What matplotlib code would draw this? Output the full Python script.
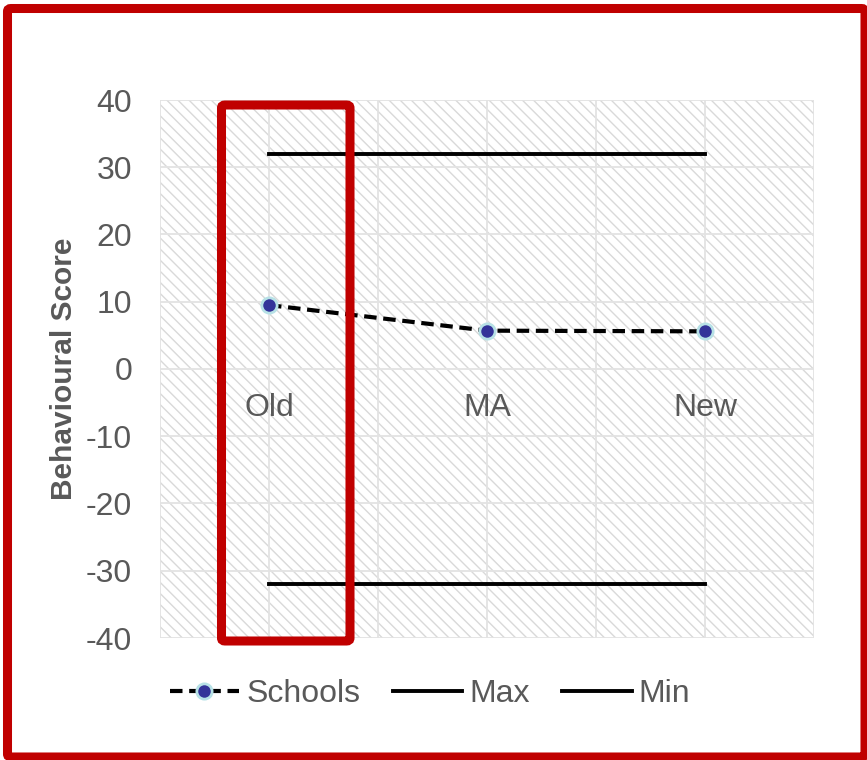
import matplotlib.pyplot as plt
from matplotlib.patches import Rectangle, FancyBboxPatch

# data
categories = ["Old", "MA", "New"]
schools = [9.5, 5.7, 5.6]
max_line = [32, 32, 32]
min_line = [-32, -32, -32]
y_ticks = [-40, -30, -20, -10, 0, 10, 20, 30, 40]

plt.rcParams['font.family'] = ['Liberation Sans', 'DejaVu Sans']
plt.rcParams['axes.unicode_minus'] = False
plt.rcParams['hatch.color'] = '#d9d9d9'
plt.rcParams['hatch.linewidth'] = 1.0
grey = '#595959'
fs = 23

W, H = 867, 760
fig = plt.figure(figsize=(W / 100, H / 100), dpi=100)

def fx(px):
    return px / W

def fy(py):
    return 1 - py / H

ax = fig.add_axes([fx(160), fy(638), fx(814) - fx(160), fy(100) - fy(638)])
x = list(range(len(categories)))

# hatched plot area
ax.add_patch(Rectangle((-0.5, -40), 3, 80, facecolor='white', edgecolor='#d9d9d9',
                       hatch='\\\\\\', linewidth=0, zorder=0))

ax.set_xlim(-0.5, 2.5)
ax.set_ylim(-40, 40)
ax.set_yticks(y_ticks)
ax.set_xticks([i - 0.5 for i in range(4)] + x)
ax.set_xticklabels([])
ax.grid(True, color='#e3e3e3', linewidth=1.3, zorder=1)
ax.set_axisbelow(True)
for s in ax.spines.values():
    s.set_visible(False)
ax.tick_params(length=0, labelsize=fs, labelcolor=grey, pad=20)

# category labels sit along the zero line
for i, c in enumerate(categories):
    ax.text(i, -5.8, c, ha='center', va='center', fontsize=fs, color=grey, zorder=3)

ax.plot(x, max_line, color='black', lw=2.8, label='Max', zorder=3)
ax.plot(x, min_line, color='black', lw=2.8, label='Min', zorder=3)
ax.plot(x, schools, color='black', lw=3, ls=(0, (3, 1.6)), marker='o', markersize=11,
        markerfacecolor='#333399', markeredgecolor='#b7e1e6', markeredgewidth=2,
        label='Schools', zorder=4)

ax.set_ylabel('Behavioural Score', fontsize=21.5, fontweight='bold', color=grey)
ax.yaxis.set_label_coords((78 - 160) / (814 - 160), 0.5)

h, l = ax.get_legend_handles_labels()
order = [2, 0, 1]
fig.legend([h[i] for i in order], [l[i] for i in order], loc='center',
           bbox_to_anchor=(fx(430), fy(694)), ncol=3, frameon=False,
           fontsize=fs, labelcolor=grey, handlelength=2.17, handletextpad=0.22,
           columnspacing=1.02)

# red outlines
fig.add_artist(FancyBboxPatch((fx(7.5), fy(757)), fx(865) - fx(7.5), fy(8.5) - fy(757),
                              boxstyle='round,pad=0,rounding_size=0.004',
                              transform=fig.transFigure, fill=False,
                              edgecolor='#c00000', linewidth=6.5, zorder=10))
fig.add_artist(FancyBboxPatch((fx(221.5), fy(641)), fx(350) - fx(221.5), fy(105) - fy(641),
                              boxstyle='round,pad=0,rounding_size=0.004',
                              transform=fig.transFigure, fill=False,
                              edgecolor='#c00000', linewidth=6.5, zorder=10))

fig.savefig('out.png', dpi=100)
